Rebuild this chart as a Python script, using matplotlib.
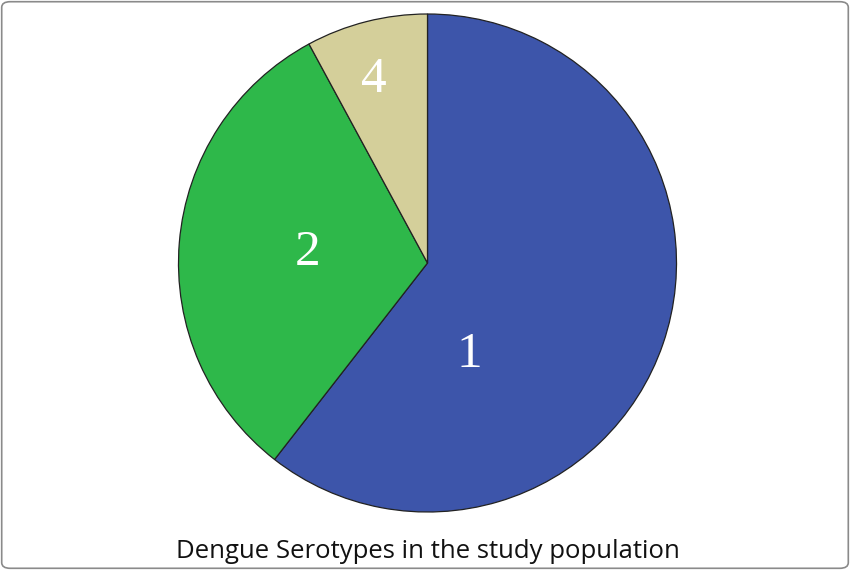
import matplotlib
matplotlib.use("Agg")
import matplotlib.pyplot as plt
from matplotlib.patches import FancyBboxPatch

# data
serotypes = ["1", "2", "4"]
counts = [23, 12, 3]
colors = ["#3D55AA", "#2EB84A", "#D4CF9A"]
title = "Dengue Serotypes in the study population"

# label spots inside the pie (radius units)
label_pos = [(0.17, -0.37), (-0.48, 0.04), (-0.215, 0.735)]


def main():
    fig = plt.figure(figsize=(8.5, 5.7), dpi=100)

    # thin grey frame round the picture
    frame = FancyBboxPatch((0.002, 0.003), 0.996, 0.994,
                           boxstyle="round,pad=0,rounding_size=0.01",
                           transform=fig.transFigure, fill=False,
                           edgecolor="#8a8a8a", linewidth=1.2)
    fig.patches.append(frame)

    ax = fig.add_axes([(427.5 - 250) / 850, (570 - 263 - 250) / 570,
                       500 / 850, 500 / 570])
    ax.pie(counts, colors=colors, startangle=90, counterclock=False,
           wedgeprops=dict(edgecolor="#222222", linewidth=0.9))
    ax.set_xlim(-1.004, 1.004)
    ax.set_ylim(-1.004, 1.004)
    ax.set_aspect("equal")
    ax.axis("off")

    for name, (x, y) in zip(serotypes, label_pos):
        ax.text(x, y, name, color="white", fontsize=37,
                family="Liberation Serif", ha="center", va="center")

    fig.text(0.504, 1 - 551 / 570, title, fontsize=18.5, family="Open Sans",
             ha="center", va="center", color="#111111")

    fig.savefig("out.png", dpi=100)


if __name__ == "__main__":
    main()
